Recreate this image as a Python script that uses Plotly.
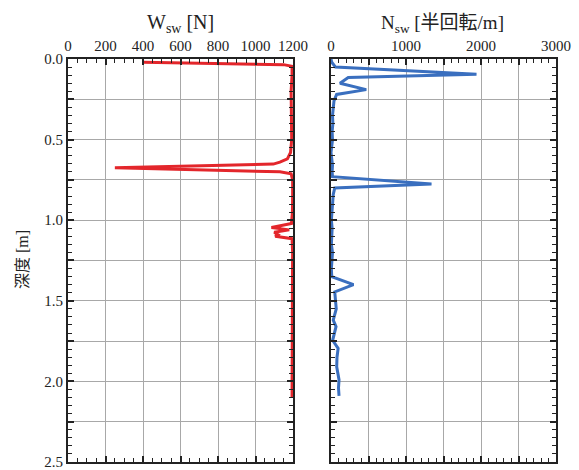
import plotly.graph_objects as go

# W_sw [N] vs depth [m]
w_depth = [0.02, 0.035, 0.045, 0.10, 0.20, 0.30, 0.40, 0.50, 0.58, 0.62, 0.64, 0.652,
           0.675, 0.70, 0.712, 0.75, 0.85, 0.95, 1.02, 1.045, 1.06, 1.075, 1.09, 1.10,
           1.115, 1.20, 1.40, 1.60, 1.80, 2.00, 2.10]
w_val = [400, 1150, 1195, 1195, 1190, 1192, 1195, 1193, 1187, 1170, 1130, 1095,
         250, 1130, 1190, 1198, 1198, 1197, 1192, 1085, 1180, 1100, 1120, 1105,
         1195, 1198, 1197, 1196, 1195, 1195, 1195]

# N_sw [半回転/m] vs depth [m]
n_depth = [0.00, 0.02, 0.05, 0.095, 0.115, 0.15, 0.19, 0.22, 0.26, 0.30, 0.35, 0.40,
           0.45, 0.50, 0.55, 0.58, 0.62, 0.66, 0.70, 0.73, 0.775, 0.80, 0.84, 0.90,
           0.95, 1.00, 1.05, 1.10, 1.15, 1.20, 1.25, 1.30, 1.35, 1.40, 1.445, 1.50,
           1.55, 1.62, 1.66, 1.745, 1.795, 1.85, 1.91, 1.99, 2.04, 2.09]
n_val = [0, 10, 60, 1940, 230, 120, 470, 75, 40, 30, 20, 25,
         15, 20, 5, 0, 10, 20, 15, 20, 1340, 50, 30, 20,
         10, 5, 15, 10, 5, 20, 10, 5, 10, 300, 50, 60,
         70, 30, 67, 22, 95, 80, 76, 107, 100, 107]

w_ticks = [0, 200, 400, 600, 800, 1000, 1200]
n_ticks = [0, 1000, 2000, 3000]
n_grid = [0, 500, 1000, 1500, 2000, 2500, 3000]
depth_grid = [0.0, 0.25, 0.5, 0.75, 1.0, 1.25, 1.5, 1.75, 2.0, 2.25, 2.5]
depth_labels = ["0.0", "", "0.5", "", "1.0", "", "1.5", "", "2.0", "", "2.5"]

SERIF = "Liberation Serif"
CJK = "Liberation Serif, Noto Sans CJK JP"
W, H = 579, 470
ML, MR, MT, MB = 68, 23, 59, 8
PW, PH = W - ML - MR, H - MT - MB

def px_x(p):
    return (p - ML) / PW

def px_y(p):
    return (H - MB - p) / PH

fig = go.Figure()
fig.add_trace(go.Scatter(x=w_val, y=w_depth, mode="lines",
                         line=dict(color="#e3262b", width=3), xaxis="x", yaxis="y"))
fig.add_trace(go.Scatter(x=n_val, y=n_depth, mode="lines",
                         line=dict(color="#3a6fbf", width=3), xaxis="x2", yaxis="y2"))

def xax(domain, rng, tickvals, ticktext, minor_dtick):
    return dict(domain=domain, range=rng, side="top", tickvals=tickvals, ticktext=ticktext,
                automargin=False, ticklabeloverflow="allow",
                ticks="inside", ticklen=6, tickwidth=1.5, tickcolor="#222",
                showline=True, linecolor="#222", linewidth=2, mirror="allticks",
                showgrid=True, gridcolor="#a8a8a8", gridwidth=1.2, zeroline=False,
                tickfont=dict(family=SERIF, size=15, color="#222"),
                minor=dict(dtick=minor_dtick, ticks="inside", ticklen=4, tickcolor="#222",
                           tickwidth=1.2, showgrid=False))

def yax(anchor, showlabels):
    return dict(domain=[0, 1], range=[2.5001, 0], anchor=anchor, automargin=False,
                ticklabeloverflow="allow",
                tickvals=depth_grid,
                ticktext=depth_labels if showlabels else [""] * len(depth_grid),
                ticks="inside", ticklen=6, tickwidth=1.5, tickcolor="#222",
                showline=True, linecolor="#222", linewidth=2, mirror="allticks",
                showgrid=True, gridcolor="#a8a8a8", gridwidth=1.2, zeroline=False,
                tickfont=dict(family=SERIF, size=15, color="#222"),
                minor=dict(dtick=0.05, ticks="inside", ticklen=4, tickcolor="#222",
                           tickwidth=1.2, showgrid=False))

fig.update_layout(
    width=W, height=H, margin=dict(l=ML, r=MR, t=MT, b=MB),
    paper_bgcolor="white", plot_bgcolor="white", showlegend=False,
    xaxis=dict(**xax([0, px_x(293)], [0, 1200], w_ticks, [str(v) for v in w_ticks], 50),
               anchor="y"),
    yaxis=yax("x", True),
    xaxis2=dict(**xax([px_x(331), 1], [0, 3000], n_grid,
                      [str(v) if v in n_ticks else "" for v in n_grid], 100), anchor="y2"),
    yaxis2=yax("x2", False),
    annotations=[
        dict(text="W<sub>sw</sub> [N]", x=px_x(180), y=px_y(24), xref="paper", yref="paper",
             xanchor="center", yanchor="middle",
             showarrow=False, font=dict(family=SERIF, size=20, color="#222")),
        dict(text="N<sub>sw</sub> [半回転/m]", x=px_x(442), y=px_y(24), xref="paper",
             yref="paper", xanchor="center", yanchor="middle",
             showarrow=False, font=dict(family=CJK, size=19, color="#222")),
        dict(text="深度 [m]", x=px_x(22), y=px_y(260), xref="paper", yref="paper",
             xanchor="center", yanchor="middle",
             textangle=-90, showarrow=False, font=dict(family=CJK, size=16, color="#222")),
    ],
)

fig.write_html("out.html", config={"displayModeBar": False},
               post_script="document.body.style.margin='0';document.body.style.overflow='hidden';")
